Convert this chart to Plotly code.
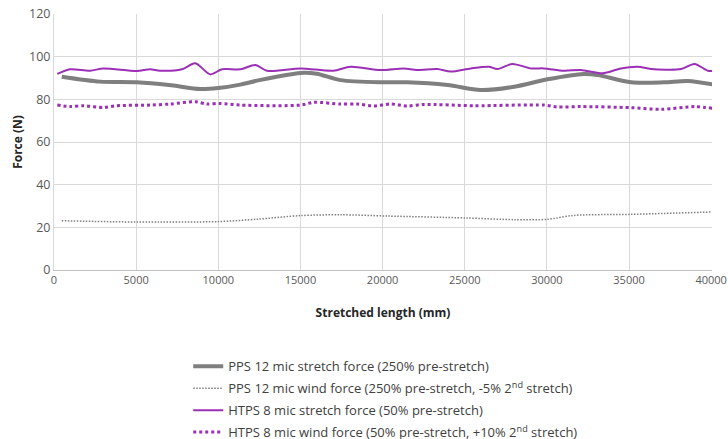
import plotly.graph_objects as go

# PPS 12 mic stretch force
pps_stretch_x = [470, 2800, 5040, 7000, 8900, 10000, 11340, 12500, 15200, 16000, 17440, 20070, 21500,
                 23960, 25970, 28000, 30040, 32250, 33090, 35120, 37130, 38580, 40100]
pps_stretch_y = [90.6, 88.3, 88, 86.7, 84.8, 85.3, 86.9, 89, 92.5, 92, 89, 88, 88,
                 86.7, 84.4, 85.9, 89.4, 91.9, 91.4, 88, 88, 88.6, 87]

# PPS 12 mic wind force
pps_wind_x = [470, 5040, 10000, 12360, 15000, 17440, 20290, 25060, 28000, 30040, 31650, 35120, 40100]
pps_wind_y = [23.1, 22.5, 22.7, 23.8, 25.5, 25.9, 25.3, 24.4, 23.6, 23.75, 25.6, 26.1, 27.2]

# HTPS 8 mic stretch force
htps_stretch_x = [200, 975, 2195, 3000, 5040, 5850, 6460, 7790, 8600, 9510, 10230, 11340, 12260, 12970,
                  15000, 17000, 18050, 19880, 21280, 22100, 23330, 24150, 25370, 26460, 27000, 27900,
                  29020, 29820, 31040, 32070, 33390, 34510, 35520, 36340, 38170, 38980, 39800, 40100]
htps_stretch_y = [91.9, 94.1, 93.4, 94.5, 93.3, 94.1, 93.4, 94.1, 96.9, 91.7, 94.1, 94.1, 96.1, 93.4,
                  94.5, 93.4, 95.3, 93.75, 94.5, 93.75, 94.2, 93, 94.5, 95.3, 94.2, 96.6,
                  94.5, 94.5, 93.4, 93.75, 92.2, 94.5, 95.3, 94.2, 94.2, 96.6, 93.4, 93.3]

# HTPS 8 mic wind force
htps_wind_x = [200, 975, 1790, 3000, 3820, 5850, 7070, 8600, 9310, 10120, 11340, 15000, 15810, 17440,
               18450, 19470, 20490, 21500, 22520, 25570, 29840, 30650, 32070, 35120, 36950, 38980, 40100]
htps_wind_y = [77.3, 76.6, 77, 76.2, 77, 77.3, 77.8, 78.9, 77.8, 78.1, 77.3, 77.3, 78.6, 77.8,
               77.8, 76.9, 77.8, 76.9, 77.6, 77, 77.3, 76.4, 76.6, 76.1, 75.3, 76.6, 75.8]

x_ticks = [0, 5000, 10000, 15000, 20000, 25000, 30000, 35000, 40000]
x_tick_labels = ["0", "5000", "10000", "15000", "20000", "25000", "30000", "35000", "40000"]
y_ticks = [0, 20, 40, 60, 80, 100, 120]
y_tick_labels = ["0", "20", "40", "60", "80", "100", "120"]

names = [
    "PPS 12 mic stretch force (250% pre-stretch)",
    "PPS 12 mic wind force (250% pre-stretch, -5% 2<sup>nd</sup> stretch)",
    "HTPS 8 mic stretch force (50% pre-stretch)",
    "HTPS 8 mic wind force (50% pre-stretch, +10% 2<sup>nd</sup> stretch)",
]

GRAY = "#7f7f7f"
PURPLE = "#9b2fb5"

fig = go.Figure()
fig.add_trace(go.Scatter(x=pps_stretch_x, y=pps_stretch_y, mode="lines", name=names[0], legendgroup="a",
                         line=dict(color=GRAY, width=4, shape="spline", smoothing=0.8)))
fig.add_trace(go.Scatter(x=pps_wind_x, y=pps_wind_y, mode="lines", name=names[1], legendgroup="b",
                         line=dict(color=GRAY, width=1.5, dash="1.5px,1.5px", shape="spline", smoothing=0.8)))
fig.add_trace(go.Scatter(x=htps_stretch_x, y=htps_stretch_y, mode="lines", name=names[2], legendgroup="c",
                         line=dict(color=PURPLE, width=2, shape="spline", smoothing=0.8)))
fig.add_trace(go.Scatter(x=htps_wind_x, y=htps_wind_y, mode="lines", name=names[3], legendgroup="d",
                         line=dict(color=PURPLE, width=3, dash="3px,3px", shape="spline", smoothing=0.8)))

fig.update_layout(
    width=728, height=439,
    margin=dict(l=54, r=16, t=14, b=169, autoexpand=False),
    paper_bgcolor="white", plot_bgcolor="white",
    font=dict(family="Open Sans", size=12, color="#595959"),
    showlegend=True,
    legend=dict(orientation="v", x=0.204, xanchor="left", y=-0.318, yanchor="top",
                font=dict(size=13, color="#404040"), bgcolor="rgba(0,0,0,0)",
                itemwidth=30, tracegroupgap=2),
    xaxis=dict(range=[0, 40050], tickvals=x_ticks, ticktext=x_tick_labels, automargin=False,
               showgrid=True, gridcolor="#d9d9d9", gridwidth=1, zeroline=False,
               showline=True, linecolor="#bfbfbf", linewidth=1, ticks="", ticklen=0,
               tickfont=dict(size=11, color="#595959"),
               title=dict(text="<b>Stretched length (mm)</b>", standoff=22,
                          font=dict(size=12, color="#262626"))),
    yaxis=dict(range=[0, 120], tickvals=y_ticks, ticktext=y_tick_labels, automargin=False,
               showgrid=True, gridcolor="#d9d9d9", gridwidth=1, zeroline=False,
               showline=True, linecolor="#d9d9d9", linewidth=1, ticks="",
               tickfont=dict(size=12.5, color="#595959"),
               title=dict(text="<b>Force (N)</b>", standoff=3,
                          font=dict(size=12, color="#262626"))),
)

fig.write_html("out.html", config={"displayModeBar": False},
               post_script="document.body.style.margin='0';document.body.style.overflow='hidden';")
